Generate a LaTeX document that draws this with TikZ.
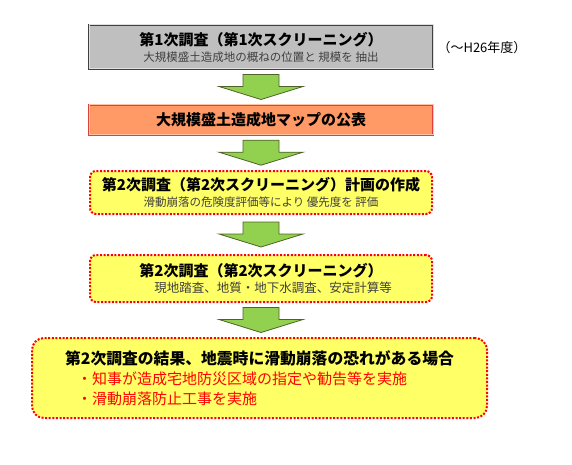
\documentclass[tikz,border=0pt]{standalone}
\usepackage{fontspec}
\setmainfont{Noto Sans CJK JP}
\usepackage{xcolor}
\usepackage{tikz}
\usetikzlibrary{calc, positioning}
\definecolor{boxgray}{HTML}{BFBFBF}
\definecolor{edgegray}{HTML}{404040}
\definecolor{mapsalmon}{HTML}{FF9966}
\definecolor{mapred}{HTML}{E0403A}
\definecolor{planyellow}{HTML}{FFFF66}
\definecolor{dotred}{HTML}{FF0000}
\definecolor{arrowgreen}{HTML}{92D050}
\definecolor{arrowedge}{HTML}{4F6228}
\newcommand{\stepdown}[2]{%
  \filldraw[greenarrow] let \p1=(#1.south), \p2=(#2.north) in
    ({\x1-18pt},{0.5*(\y1+\y2)+12.5pt}) -- ({\x1+18pt},{0.5*(\y1+\y2)+12.5pt})
    -- ({\x1+18pt},{0.5*(\y1+\y2)+0.5pt}) -- ({\x1+42pt},{0.5*(\y1+\y2)+0.5pt})
    -- (\x1,{0.5*(\y1+\y2)-12.5pt}) -- ({\x1-42pt},{0.5*(\y1+\y2)+0.5pt})
    -- ({\x1-18pt},{0.5*(\y1+\y2)+0.5pt}) -- cycle;
}

\begin{document}
\begin{tikzpicture}[
  x=1pt, y=-1pt,
  every node/.style={inner sep=0pt},
  surveybox/.style={rectangle, draw=edgegray, double=white!75!gray, double distance=1pt,
                    line width=0.8pt, fill=boxgray, minimum width=344pt, minimum height=44pt,
                    align=center},
  mapbox/.style={rectangle, draw=mapred, double=mapsalmon!60!white, double distance=1pt,
                 line width=0.8pt, fill=mapsalmon, minimum width=344pt, minimum height=30pt,
                 align=center},
  planbox/.style={rectangle, rounded corners=6pt, draw=dotred, line width=2pt,
                  dash pattern=on 2pt off 1.6pt, fill=planyellow,
                  minimum width=342pt, align=center},
  resultbox/.style={planbox, rounded corners=12pt, minimum width=455pt, minimum height=80pt,
                    align=left},
  greenarrow/.style={fill=arrowgreen, draw=arrowedge, line width=0.8pt, line join=miter},
  period/.style={font=\fontsize{13}{13}\selectfont}
]
\useasboundingbox (0,0) rectangle (572,465);

% 第1次スクリーニング
\node[surveybox] (first) at (261,47)
  {{\fontsize{15}{15}\selectfont\bfseries 第1次調査（第1次スクリーニング）}\\[4pt]
   {\fontsize{11.5}{12}\selectfont\color{edgegray}大規模盛土造成地の概ねの位置と 規模を 抽出}};
\node[period] (period) at (482,48) {（～H26年度）};

% マップの公表
\node[mapbox] (map) at (261,120)
  {\fontsize{15}{15}\selectfont\bfseries 大規模盛土造成地マップの公表};

% 第2次スクリーニング計画
\node[planbox, minimum height=43pt] (plan) at (261,192.5)
  {{\fontsize{15}{15}\selectfont\bfseries 第2次調査（第2次スクリーニング）計画の作成}\\[4pt]
   {\fontsize{11.5}{12}\selectfont\color{edgegray}滑動崩落の危険度評価等により 優先度を 評価}};

% 第2次スクリーニング
\node[planbox, minimum height=47pt] (second) at (261,278.5)
  {{\fontsize{15}{15}\selectfont\bfseries 第2次調査（第2次スクリーニング）}\\[3pt]
   {\fontsize{12.5}{13}\selectfont\color{edgegray}\hspace*{24pt}現地踏査、地質・地下水調査、安定計算等}};

% 結果
\node[resultbox] (result) at (259.5,378)
  {{\fontsize{15.8}{16}\selectfont\bfseries 第2次調査の結果、地震時に滑動崩落の恐れがある場合}\\[5pt]
   {\fontsize{15}{15}\selectfont\color{dotred}\hspace*{12pt}・知事が造成宅地防災区域の指定や勧告等を実施}\\[5pt]
   {\fontsize{15}{15}\selectfont\color{dotred}\hspace*{12pt}・滑動崩落防止工事を実施}};

% 流れ
\stepdown{first}{map}
\stepdown{map}{plan}
\stepdown{plan}{second}
\stepdown{second}{result}

\end{tikzpicture}
\end{document}
